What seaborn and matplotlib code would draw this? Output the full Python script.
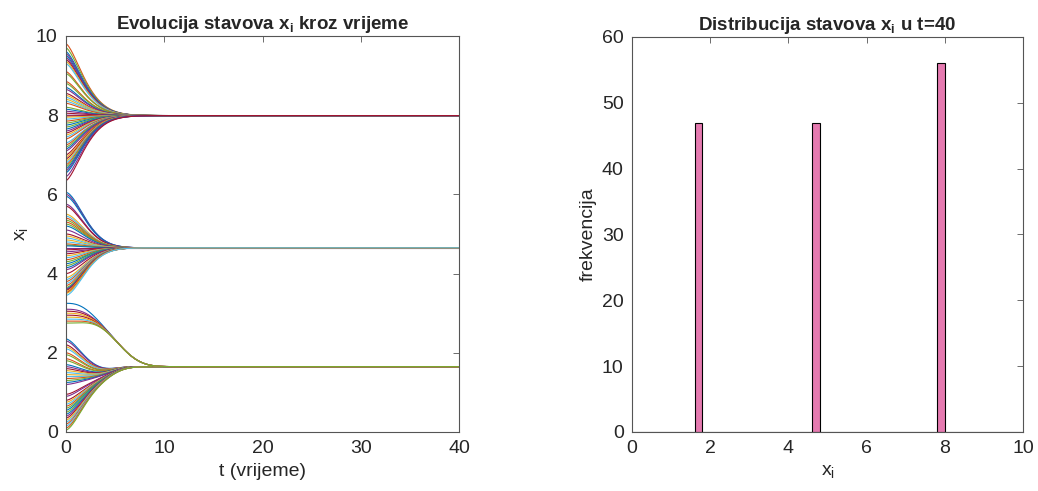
import numpy as np
import pandas as pd
import matplotlib
matplotlib.use('Agg')
import matplotlib.pyplot as plt
import seaborn as sns

# --- data ---
t = np.linspace(0, 40, 401)

# initial states of the agents, grouped by the opinion cluster they end up in
top_init = [9.8, 9.7, 9.6, 9.55, 9.5, 9.45, 9.4, 9.35, 9.3, 9.1, 9.05, 8.85, 8.8, 8.7,
            8.65, 8.55, 8.5, 8.45, 8.4, 8.35, 8.3, 8.2, 8.15, 8.1, 8.05, 8.0, 7.98, 7.95,
            7.9, 7.85, 7.8, 7.75, 7.7, 7.65, 7.6, 7.55, 7.5, 7.45, 7.4, 7.3, 7.25, 7.2,
            7.15, 7.1, 7.0, 6.95, 6.9, 6.85, 6.8, 6.75, 6.7, 6.65, 6.6, 6.55, 6.45, 6.35]
mid_init = [6.05, 6.0, 5.95, 5.75, 5.7, 5.5, 5.45, 5.4, 5.35, 5.3, 5.25, 5.2, 5.1, 5.0,
            4.95, 4.9, 4.85, 4.8, 4.75, 4.72, 4.7, 4.65, 4.6, 4.55, 4.5, 4.45, 4.4, 4.35,
            4.3, 4.25, 4.2, 4.15, 4.1, 4.0, 3.9, 3.85, 3.8, 3.75, 3.7, 3.65, 3.62, 3.6,
            3.58, 3.55, 3.52, 3.5, 3.45]
low_hi_init = [3.25, 3.1, 3.05, 3.0, 2.95, 2.9, 2.85, 2.8, 2.75]
low_lo_init = [2.35, 2.3, 2.2, 2.15, 2.1, 2.0, 1.95, 1.85, 1.8,
               1.7, 1.65, 1.6, 1.55, 1.5, 1.45, 1.4, 1.35, 1.3, 1.25, 1.2,
               0.95, 0.9, 0.8, 0.75, 0.7, 0.65, 0.6, 0.55, 0.5, 0.45, 0.4, 0.35,
               0.3, 0.25, 0.2, 0.15, 0.1, 0.05]

# consensus values of the three clusters
final_top, final_mid, final_low = 7.99, 4.65, 1.65
# intermediate meeting points of the two sub-groups of the lowest cluster
meet_low_hi, meet_low_lo = 2.9, 1.4

matlab_colors = ['#0072BD', '#D95319', '#EDB120', '#7E2F8E', '#77AC30', '#4DBEEE', '#A2142F']


def relax(x0, target, tau, p):
    return target + (x0 - target) * np.exp(-(t / tau) ** p)


def smooth_step(tau, p):
    return np.exp(-(t / tau) ** p)


trajs = []
for x0 in low_lo_init:
    trajs.append(final_low + (x0 - meet_low_lo) * smooth_step(2.6, 1.6)
                 + (meet_low_lo - final_low) * smooth_step(5.0, 4.0))
for x0 in low_hi_init:
    trajs.append(final_low + (x0 - meet_low_hi) * smooth_step(3.0, 2.5)
                 + (meet_low_hi - final_low) * smooth_step(5.8, 3.2))
for x0 in mid_init:
    trajs.append(relax(x0, final_mid, 2.6, 1.7))
for x0 in top_init:
    trajs.append(relax(x0, final_top, 2.5, 1.5))

n = len(trajs)
order = [(i * 3 + i // 7) % 7 for i in range(n)]
rows = []
for i, tr in enumerate(trajs):
    rows.append(pd.DataFrame({'t': t, 'x': tr, 'agent': i}))
df = pd.concat(rows, ignore_index=True)
palette = [matlab_colors[order[i]] for i in range(n)]
final_states = np.array([tr[-1] for tr in trajs])

# --- plotting ---
sns.set_style('white')
plt.rcParams['font.family'] = ['Liberation Sans', 'DejaVu Sans']
plt.rcParams['mathtext.default'] = 'regular'

fig = plt.figure(figsize=(10.38, 4.91), dpi=100)
ax1 = fig.add_axes([0.0636, 0.1202, 0.3786, 0.8065])
ax2 = fig.add_axes([0.6089, 0.1202, 0.3767, 0.8045])

sns.lineplot(data=df, x='t', y='x', hue='agent', palette=palette, legend=False,
             estimator=None, linewidth=0.8, ax=ax1)
ax1.set_xlim(0, 40)
ax1.set_ylim(0, 10)
ax1.set_xticks([0, 10, 20, 30, 40])
ax1.set_yticks([0, 2, 4, 6, 8, 10])
ax1.set_title('Evolucija stavova x$_i$ kroz vrijeme', fontsize=13.5, fontweight='bold', pad=5)
ax1.set_xlabel('t (vrijeme)', fontsize=14)
ax1.set_ylabel('x$_i$', fontsize=14)

sns.histplot(x=final_states, bins=np.arange(0, 10.01, 0.2), color='#E57AB0', alpha=1,
             edgecolor='black', linewidth=0.8, ax=ax2)
ax2.set_xlim(0, 10)
ax2.set_ylim(0, 60)
ax2.set_xticks([0, 2, 4, 6, 8, 10])
ax2.set_yticks([0, 10, 20, 30, 40, 50, 60])
ax2.set_title('Distribucija stavova x$_i$ u t=40', fontsize=13.5, fontweight='bold', pad=5)
ax2.set_xlabel('x$_i$', fontsize=14)
ax2.set_ylabel('frekvencija', fontsize=14)

for ax in (ax1, ax2):
    for s in ax.spines.values():
        s.set_visible(True)
        s.set_color('#555555')
        s.set_linewidth(0.8)
    ax.tick_params(direction='in', length=4, width=0.6, color='#555555', labelsize=14,
                   top=True, right=True, labelcolor='#262626', pad=6)

plt.savefig('out.png', dpi=100)
